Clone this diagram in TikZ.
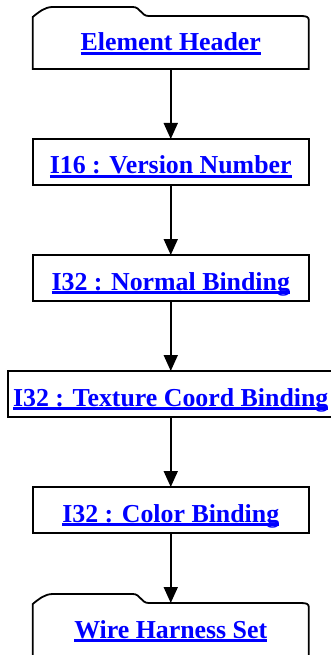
\documentclass[tikz,border=0pt]{standalone}
\usepackage{fontspec}
\setmainfont{Liberation Serif}
\usetikzlibrary{arrows.meta,positioning,calc}
\definecolor{linkblue}{RGB}{0,0,255}
\newcommand{\ulink}[1]{\setbox0\hbox{#1}\rlap{\rule[-3.6pt]{\wd0}{2.4pt}}\box0}

\begin{document}
\begin{tikzpicture}[x=1pt,y=-1pt,->,>={Triangle[length=16pt,width=14pt]},
                    node distance=70pt,line width=1.8pt]
  \tikzstyle{field}=[rectangle,draw=black,fill=white,minimum width=276pt,
                     inner sep=0pt,outer sep=0pt,text height=35pt,text depth=11pt,
                     text=linkblue,font=\bfseries\fontsize{25.85}{30}\selectfont]
  \tikzstyle{element}=[field,draw=none,fill=none,text depth=18pt]
  \tikzstyle{tab}=[-,draw=black]

  \useasboundingbox (0,0) rectangle (331,655);
  \clip (0,0) rectangle (331,655);

  \node[element] (eh)  [anchor=north] at (170.75,16) {\ulink{Element Header}};
  \node[field]   (vn)  [below=of eh]                 {\ulink{I16 : Version Number}};
  \node[field]   (nb)  [below=of vn]                 {\ulink{I32 : Normal Binding}};
  \node[field,minimum width=326pt] (tcb) [below=of nb] {\ulink{I32 : Texture Coord Binding}};
  \node[field]   (cb)  [below=of tcb]                {\ulink{I32 : Color Binding}};
  \node[element] (whs) [below=of cb]                 {\ulink{Wire Harness Set}};

  % tabbed outline of the element boxes
  \foreach \n in {eh,whs}
    \draw[tab] (\n.south west) -- ($(\n.north west)+(0,1)$)
      .. controls ($(\n.north west)+(6,-4)$) and ($(\n.north west)+(12,-9)$) .. ($(\n.north west)+(20,-9)$)
      -- ($(\n.north west)+(100,-9)$)
      .. controls ($(\n.north west)+(108,-9)$) and ($(\n.north west)+(108,0)$) .. ($(\n.north west)+(116,0)$)
      -- ($(\n.north east)+(-8,0)$)
      .. controls ($(\n.north east)+(-2,0)$) and ($(\n.north east)+(0,1)$) .. ($(\n.north east)+(0,4)$)
      -- (\n.south east) -- cycle;

  \path (eh) edge (vn)
        (vn) edge (nb)
        (nb) edge (tcb)
        (tcb) edge (cb)
        (cb) edge (whs);
\end{tikzpicture}
\end{document}
